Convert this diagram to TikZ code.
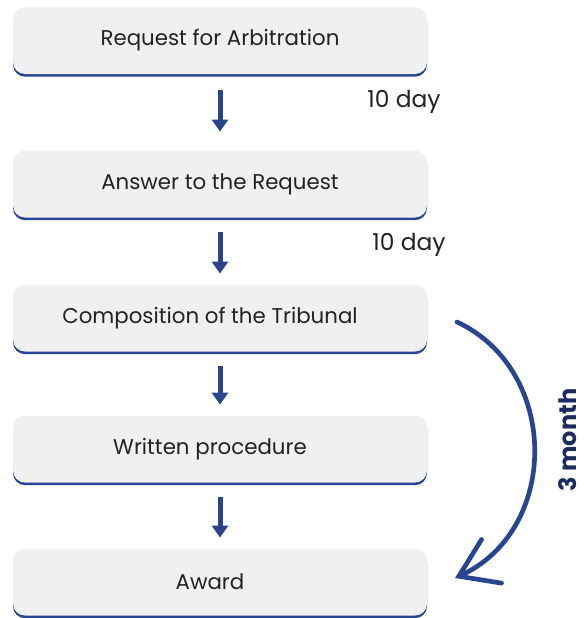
\documentclass[tikz,border=0pt]{standalone}
\usepackage{fontspec}
\setmainfont{Poppins}
\usetikzlibrary{arrows.meta, positioning, shadows}

\definecolor{stageblue}{HTML}{2A4590}
\definecolor{stagegray}{HTML}{F0F0F0}
\definecolor{monthnavy}{HTML}{1B2B5F}
\definecolor{stagetext}{HTML}{222222}

\tikzset{
  stagebox/.style={rectangle, rounded corners=9pt, fill=stagegray,
    minimum width=310.5pt, minimum height=50.25pt, text=stagetext,
    font=\fontsize{16}{18}\selectfont,
    drop shadow={shadow xshift=0pt, shadow yshift=-2pt, fill=stageblue, opacity=1}},
  stagearrow/.style={stageblue, line width=3.75pt, -{Triangle[width=12pt,length=9pt]},
    shorten <=10.5pt, shorten >=8pt},
  daylabel/.style={text=stagetext, font=\fontsize{17.5}{20}\selectfont},
  monthlabel/.style={text=monthnavy, font=\fontsize{18}{20}\selectfont\bfseries,
    rotate=90, inner sep=0pt},
  montharrow/.style={stageblue, line width=3.5pt, line cap=round,
    -{Straight Barb[length=27pt,width=36pt,line cap=round]}}
}

\begin{document}
\begin{tikzpicture}[x=0.75pt,y=-0.75pt]
   \useasboundingbox (0,0) rectangle (586,618);

   % Stages
      \node[stagebox] (req)  at (220,40.5) {Request for Arbitration};
      \node[stagebox] (ans)  at (220,184)  {Answer to the Request};
      \node[stagebox] (comp) at (220,318)  {Composition of the Tribunal\hspace*{15pt}};
      \node[stagebox] (writ) at (220,449)  {Written procedure\hspace*{15pt}};
      \node[stagebox] (awd)  at (220,582)  {Award\hspace*{15pt}};

   % Time limits
      \node[daylabel] (day1) at (404,102) {10 day};
      \node[daylabel] (day2) at (409,245) {10 day};
      \node[monthlabel] (months) at (568,440) {3 month};

   % Steps
      \draw[stagearrow, shorten <=12pt, shorten >=14pt] (req.south) -- (ans.north);
      \draw[stagearrow] (ans.south)  -- (comp.north);
      \draw[stagearrow] (comp.south) -- (writ.north);
      \draw[stagearrow] (writ.south) -- (awd.north);

   % Long arc
      \coordinate (arcstart) at (457,322);
      \coordinate (arcend)   at (455,578);
      \draw[montharrow] (arcstart) .. controls (560,370) and (560,530) .. (arcend);
\end{tikzpicture}
\end{document}
